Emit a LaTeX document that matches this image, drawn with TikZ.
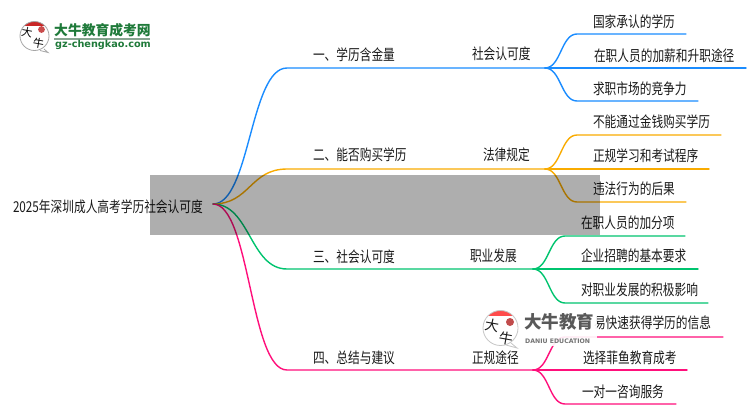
\documentclass[tikz,border=0pt]{standalone}
\usepackage{fontspec}
\usetikzlibrary{calc}
\setmainfont{Liberation Sans}
\newfontfamily\cjk[FakeStretch=.78]{Noto Sans CJK SC}
\newfontfamily\cjkb{Noto Sans CJK SC}
\newfontfamily\latb{DejaVu Sans}
\definecolor{cblue}{HTML}{1A8CFF}
\definecolor{cgold}{HTML}{F9AB00}
\definecolor{cgreen}{HTML}{00C46F}
\definecolor{cpink}{HTML}{FF0F7B}
\definecolor{ink}{HTML}{1A1A1A}
\definecolor{logogreen}{HTML}{1F7A3A}
\tikzset{
  lab/.style={inner sep=0pt,outer sep=0pt,anchor=west,text=ink,font=\cjk\fontsize{15}{16}\selectfont},
  labr/.style={lab,anchor=east},
  conn/.style={line width=1.4pt,line cap=round},
}
\begin{document}
\begin{tikzpicture}[x=1pt,y=-1pt]
\useasboundingbox (0,0) rectangle (750,410);
\fill[white] (0,0) rectangle (750,410);
% anchors
\coordinate (r) at (213,204);
\foreach \n/\y/\jx in {1/68/545,2/169/545,3/269/533,4/370/533}{
  \coordinate (b\n) at (287,\y);
  \coordinate (j\n) at (\jx,\y);
}
\coordinate (e11) at (686,34);\coordinate (e12) at (746,68);\coordinate (e13) at (698,101);
\coordinate (e21) at (721,135);\coordinate (e22) at (709,169);\coordinate (e23) at (686,202);
\coordinate (e31) at (685,236);\coordinate (e32) at (698,269);\coordinate (e33) at (708,303);
\coordinate (e41) at (723,337);\coordinate (e42) at (687,370);\coordinate (e43) at (676,404);
% connectors
\foreach \n/\c in {1/cblue,2/cgold,3/cgreen,4/cpink}{
  \draw[conn,\c] (r) .. controls ($(r)+(37,0)$) and ($(b\n)+(-37,0)$) .. (b\n) -- (j\n);
  \draw[conn,\c] (j\n) .. controls ($(j\n)+(16,0)$) and ($(e\n1-|j\n)+(16,0)$) .. ($(e\n1-|j\n)+(32,0)$) -- (e\n1);
  \draw[conn,\c] (j\n) -- (e\n2);
  \draw[conn,\c] (j\n) .. controls ($(j\n)+(16,0)$) and ($(e\n3-|j\n)+(16,0)$) .. ($(e\n3-|j\n)+(32,0)$) -- (e\n3);
}
% texts
\node[lab] (root) at (13,206.5) {2025年深圳成人高考学历社会认可度};
\node[lab] (l1) at (313,55) {一、学历含金量};
\node[lab] (l2) at (313,155) {二、能否购买学历};
\node[lab] (l3) at (313,257) {三、社会认可度};
\node[lab] (l4) at (313,358) {四、总结与建议};
\node[lab] (m1) at (472,54) {社会认可度};
\node[lab] (m2) at (483,155) {法律规定};
\node[lab] (m3) at (470,256) {职业发展};
\node[lab] (m4) at (472,358) {正规途径};
\node[lab] (s11) at (593,22) {国家承认的学历};
\node[lab] (s12) at (594,56) {在职人员的加薪和升职途径};
\node[lab] (s13) at (593,89) {求职市场的竞争力};
\node[lab] (s21) at (593,122) {不能通过金钱购买学历};
\node[lab] (s22) at (593,156) {正规学习和考试程序};
\node[lab] (s23) at (593,189) {违法行为的后果};
\node[lab] (s31) at (581,223) {在职人员的加分项};
\node[lab] (s32) at (581,256) {企业招聘的基本要求};
\node[lab] (s33) at (581,290) {对职业发展的积极影响};
\node[labr] (s41) at (711,323) {易快速获得学历的信息};
\node[lab] (s42) at (583,358) {选择菲鱼教育成考};
\node[lab] (s43) at (582,392) {一对一咨询服务};
% grey band
\fill[blend mode=multiply,fill={rgb,255:red,174;green,174;blue,174}] (150,175) rectangle (600,235);
% top-left logo
\draw[gray!70,fill=white,line width=.8pt] (44,49) -- (48,52.5) -- (40,50.5);
\begin{scope}
  \clip (34.5,36) circle (14.5);
  \fill[white] (20,21) rectangle (49,51);
  \fill[red!75!black!85] (20,21) rectangle (49,26);
\end{scope}
\draw[gray!70,line width=.8pt] (34.5,36) circle (14.5);
\fill[red!70!black!70] (41.5,29.5) circle (3.4);
\node[inner sep=0pt,rotate=-10,font=\cjkb\fontsize{11}{11}\selectfont,text=black] (lgA) at (27,32) {大};
\node[inner sep=0pt,rotate=-10,font=\cjkb\fontsize{11}{11}\selectfont,text=black] (lgB) at (38.5,43) {牛};
\node[inner sep=0pt,anchor=west,font=\cjkb\bfseries\fontsize{13.8}{14}\selectfont,text=logogreen] (lgT) at (54,30) {大牛教育成考网};
\fill[logogreen!45!gray!70] (54,37.8) rectangle (150,39.6);
\node[inner sep=0pt,anchor=west,font=\latb\bfseries\fontsize{9.7}{11}\selectfont,text=logogreen] (lgU) at (55,45) {gz-chengkao.com};
% watermark
\fill[white,opacity=.9] (482,307) rectangle (597,345.5);
\draw[gray!45,fill=white,line width=.8pt] (511,343) -- (517,348) -- (506,345);
\begin{scope}
  \clip (500.5,328) circle (17.5);
  \fill[white] (483,310) rectangle (518,346);
  \fill[red!70!white] (483,310) rectangle (518,316);
\end{scope}
\draw[gray!45,line width=.8pt] (500.5,328) circle (17.5);
\fill[red!65!black!70] (510,322) circle (4);
\node[inner sep=0pt,rotate=-10,font=\cjkb\fontsize{14}{15}\selectfont,text=ink] (wmA) at (492,325) {大};
\node[inner sep=0pt,rotate=-10,font=\cjkb\fontsize{14}{15}\selectfont,text=ink] (wmB) at (506.5,338) {牛};
\node[inner sep=0pt,anchor=west,font=\cjkb\bfseries\fontsize{17.5}{18}\selectfont,text=black!65] (wmT) at (524,322) {大牛教育};
\node[inner sep=0pt,anchor=west,font=\latb\bfseries\fontsize{6.2}{7}\selectfont,text=black!55] (wmU) at (525,341.5) {DANIU EDUCATION};
\end{tikzpicture}
\end{document}
